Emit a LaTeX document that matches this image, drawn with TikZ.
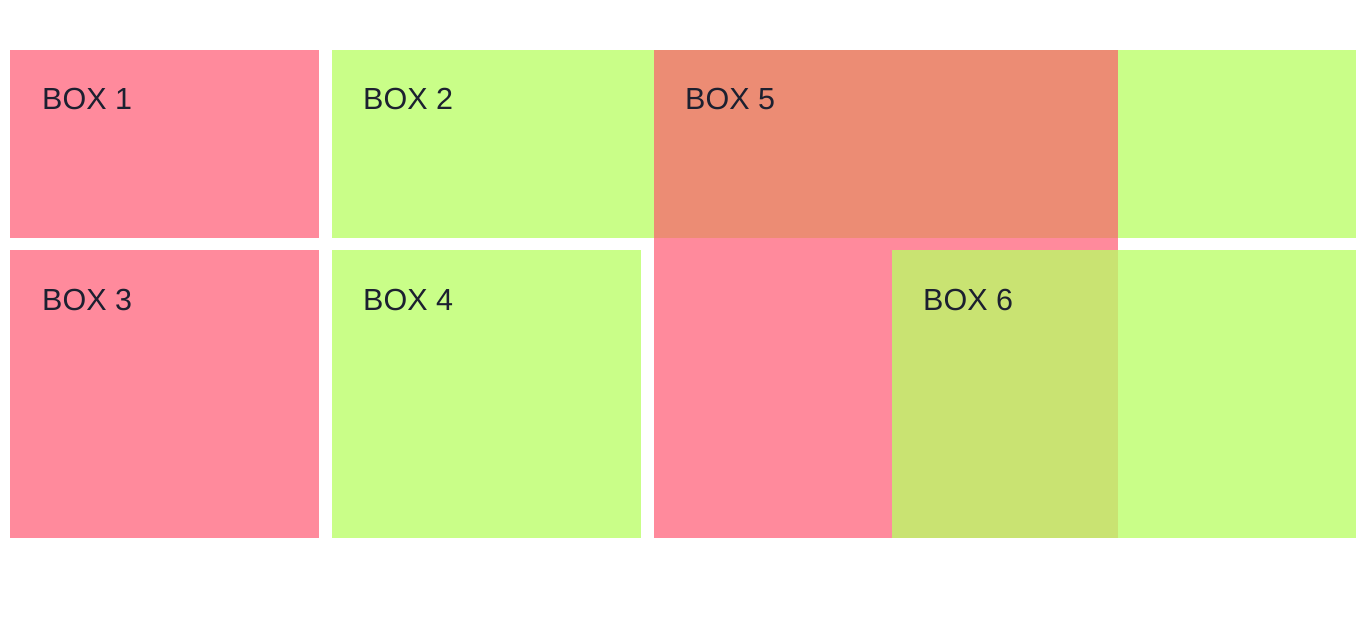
\documentclass[tikz,border=0pt]{standalone}
\usepackage{fontspec}
\setmainfont{Liberation Sans}
\usepackage{tikz}
\definecolor{boxpink}{HTML}{FF8A9C}
\definecolor{boxgreen}{HTML}{C9FE88}
\definecolor{boxsalmon}{HTML}{EC8C74}
\definecolor{boxolive}{HTML}{C9E372}
\definecolor{boxtext}{HTML}{1C2030}
\tikzset{
	panel/.style={rectangle,inner sep=0pt,outer sep=0pt,anchor=north west},
	pinkstyle/.style={panel,fill=boxpink},
	greenstyle/.style={panel,fill=boxgreen},
	salmonstyle/.style={panel,fill=boxsalmon},
	olivestyle/.style={panel,fill=boxolive},
	labelstyle/.style={anchor=base west,inner sep=0pt,text=boxtext,font=\fontsize{30.5}{36}\selectfont}
}
\begin{document}
\begin{tikzpicture}[x=1pt,y=-1pt]
	\useasboundingbox (0,0) rectangle (1366,626);
	\node[pinkstyle,minimum width=309pt,minimum height=188pt] (b1) at (10,50) {};
	\node[pinkstyle,minimum width=309pt,minimum height=288pt] (b3) at (10,250) {};
	\node[greenstyle,minimum width=322pt,minimum height=188pt] (b2) at (332,50) {};
	\node[greenstyle,minimum width=309pt,minimum height=288pt] (b4) at (332,250) {};
	\node[greenstyle,minimum width=238pt,minimum height=188pt] (r1) at (1118,50) {};
	\node[greenstyle,minimum width=238pt,minimum height=288pt] (r2) at (1118,250) {};
	\node[pinkstyle,minimum width=464pt,minimum height=488pt] (b5) at (654,50) {};
	\node[salmonstyle,minimum width=464pt,minimum height=188pt] (b5top) at (654,50) {};
	\node[olivestyle,minimum width=226pt,minimum height=288pt] (b6) at (892,250) {};
	\node[labelstyle] (l1) at (42,110) {BOX 1};
	\node[labelstyle] (l2) at (363,110) {BOX 2};
	\node[labelstyle] (l5) at (685,110) {BOX 5};
	\node[labelstyle] (l3) at (42,310) {BOX 3};
	\node[labelstyle] (l4) at (363,310) {BOX 4};
	\node[labelstyle] (l6) at (923,310) {BOX 6};
\end{tikzpicture}
\end{document}
